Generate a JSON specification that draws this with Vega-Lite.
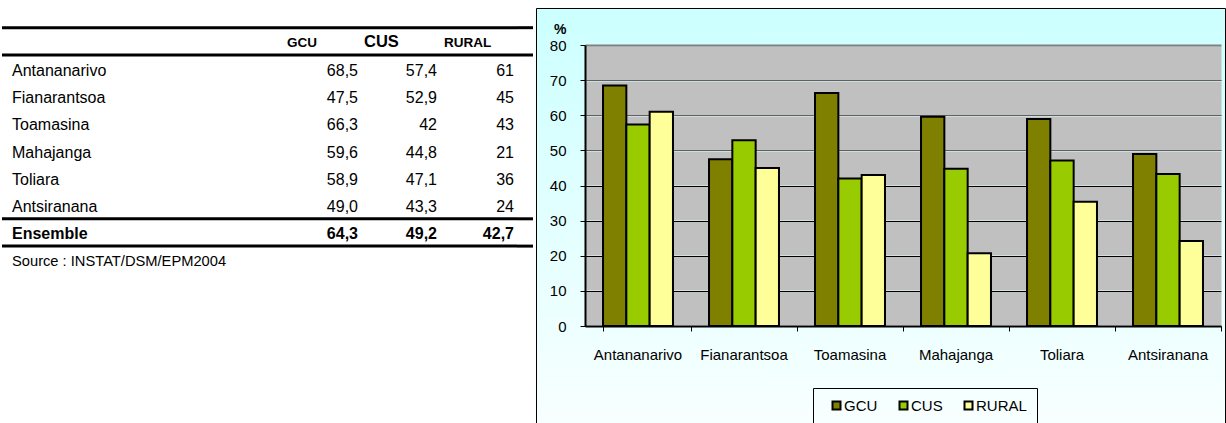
{
  "$schema": "https://vega.github.io/schema/vega-lite/v6.json",
  "background": "white",
  "padding": {"top": 7, "left": 0, "right": 0, "bottom": 0},
  "spacing": 0,
  "resolve": {"legend": {"color": "independent"}, "scale": {"color": "independent"}},
  "config": {
    "font": "Liberation Sans",
    "view": {"stroke": null},
    "text": {"color": "black"}
  },
  "datasets": {
    "bars": [
      {"region": "Antananarivo", "series": "GCU", "value": 68.5},
      {"region": "Antananarivo", "series": "CUS", "value": 57.4},
      {"region": "Antananarivo", "series": "RURAL", "value": 61},
      {"region": "Fianarantsoa", "series": "GCU", "value": 47.5},
      {"region": "Fianarantsoa", "series": "CUS", "value": 52.9},
      {"region": "Fianarantsoa", "series": "RURAL", "value": 45},
      {"region": "Toamasina", "series": "GCU", "value": 66.3},
      {"region": "Toamasina", "series": "CUS", "value": 42},
      {"region": "Toamasina", "series": "RURAL", "value": 43},
      {"region": "Mahajanga", "series": "GCU", "value": 59.6},
      {"region": "Mahajanga", "series": "CUS", "value": 44.8},
      {"region": "Mahajanga", "series": "RURAL", "value": 20.7},
      {"region": "Toliara", "series": "GCU", "value": 58.9},
      {"region": "Toliara", "series": "CUS", "value": 47.1},
      {"region": "Toliara", "series": "RURAL", "value": 35.4},
      {"region": "Antsiranana", "series": "GCU", "value": 49.0},
      {"region": "Antsiranana", "series": "CUS", "value": 43.3},
      {"region": "Antsiranana", "series": "RURAL", "value": 24.2}
    ],
    "table": [
      {"row": "header", "kind": "header", "name": "", "GCU": "GCU", "CUS": "CUS", "RURAL": "RURAL"},
      {"row": "Antananarivo", "kind": "body", "name": "Antananarivo", "GCU": "68,5", "CUS": "57,4", "RURAL": "61"},
      {"row": "Fianarantsoa", "kind": "body", "name": "Fianarantsoa", "GCU": "47,5", "CUS": "52,9", "RURAL": "45"},
      {"row": "Toamasina", "kind": "body", "name": "Toamasina", "GCU": "66,3", "CUS": "42", "RURAL": "43"},
      {"row": "Mahajanga", "kind": "body", "name": "Mahajanga", "GCU": "59,6", "CUS": "44,8", "RURAL": "21"},
      {"row": "Toliara", "kind": "body", "name": "Toliara", "GCU": "58,9", "CUS": "47,1", "RURAL": "36"},
      {"row": "Antsiranana", "kind": "body", "name": "Antsiranana", "GCU": "49,0", "CUS": "43,3", "RURAL": "24"},
      {"row": "Ensemble", "kind": "total", "name": "Ensemble", "GCU": "64,3", "CUS": "49,2", "RURAL": "42,7"},
      {"row": "Source", "kind": "source", "name": "Source : INSTAT/DSM/EPM2004", "GCU": "", "CUS": "", "RURAL": ""}
    ],
    "lines": [
      {"row": "header"},
      {"row": "Antananarivo"},
      {"row": "Ensemble"},
      {"row": "Source"}
    ]
  },
  "hconcat": [
    {
      "spacing": 0,
      "bounds": "flush",
      "hconcat": [
        {
          "width": 280, "height": 416,
          "layer": [
            {
              "data": {"name": "lines"},
              "mark": {"type": "rule", "strokeWidth": 3, "color": "black"},
              "encoding": {"y": {"field": "row", "type": "nominal", "bandPosition": 0, "axis": null,
                "scale": {"type": "band", "domain": ["header", "Antananarivo", "Fianarantsoa", "Toamasina", "Mahajanga", "Toliara", "Antsiranana", "Ensemble", "Source"], "paddingInner": 0, "paddingOuter": 0, "range": [19.7, 265.4]}}}
            },
            {
              "data": {"name": "table"},
              "transform": [{"filter": "datum.kind === 'body'"}],
              "mark": {"type": "text", "align": "left", "baseline": "middle", "fontSize": 16, "dx": 10, "dy": 2},
              "encoding": {"x": {"value": 0}, "y": {"field": "row", "type": "nominal", "bandPosition": 0.5, "axis": null}, "text": {"field": "name"}}
            },
            {
              "data": {"name": "table"},
              "transform": [{"filter": "datum.kind === 'total'"}],
              "mark": {"type": "text", "align": "left", "baseline": "middle", "fontSize": 16, "fontWeight": "bold", "dx": 10, "dy": 2},
              "encoding": {"x": {"value": 0}, "y": {"field": "row", "type": "nominal", "bandPosition": 0.5, "axis": null}, "text": {"field": "name"}}
            },
            {
              "data": {"name": "table"},
              "transform": [{"filter": "datum.kind === 'source'"}],
              "mark": {"type": "text", "align": "left", "baseline": "middle", "fontSize": 14.7, "dx": 10, "dy": 2},
              "encoding": {"x": {"value": 0}, "y": {"field": "row", "type": "nominal", "bandPosition": 0.5, "axis": null}, "text": {"field": "name"}}
            }
          ]
        },
        {
          "width": 78, "height": 416,
          "layer": [
            {
              "data": {"name": "lines"},
              "mark": {"type": "rule", "strokeWidth": 3, "color": "black"},
              "encoding": {"y": {"field": "row", "type": "nominal", "bandPosition": 0, "axis": null,
                "scale": {"type": "band", "domain": ["header", "Antananarivo", "Fianarantsoa", "Toamasina", "Mahajanga", "Toliara", "Antsiranana", "Ensemble", "Source"], "paddingInner": 0, "paddingOuter": 0, "range": [19.7, 265.4]}}}
            },
            {
              "data": {"name": "table"},
              "transform": [{"filter": "datum.kind === 'header'"}],
              "mark": {"type": "text", "align": "left", "baseline": "middle", "fontSize": 13.5, "fontWeight": "bold", "dx": 5, "dy": 2},
              "encoding": {"x": {"value": 0}, "y": {"field": "row", "type": "nominal", "bandPosition": 0.5, "axis": null}, "text": {"field": "GCU"}}
            },
            {
              "data": {"name": "table"},
              "transform": [{"filter": "datum.kind === 'body'"}],
              "mark": {"type": "text", "align": "right", "baseline": "middle", "fontSize": 16, "dx": -2, "dy": 2},
              "encoding": {"x": {"value": "width"}, "y": {"field": "row", "type": "nominal", "bandPosition": 0.5, "axis": null}, "text": {"field": "GCU"}}
            },
            {
              "data": {"name": "table"},
              "transform": [{"filter": "datum.kind === 'total'"}],
              "mark": {"type": "text", "align": "right", "baseline": "middle", "fontSize": 16, "fontWeight": "bold", "dx": -2, "dy": 2},
              "encoding": {"x": {"value": "width"}, "y": {"field": "row", "type": "nominal", "bandPosition": 0.5, "axis": null}, "text": {"field": "GCU"}}
            }
          ]
        },
        {
          "width": 79, "height": 416,
          "layer": [
            {
              "data": {"name": "lines"},
              "mark": {"type": "rule", "strokeWidth": 3, "color": "black"},
              "encoding": {"y": {"field": "row", "type": "nominal", "bandPosition": 0, "axis": null,
                "scale": {"type": "band", "domain": ["header", "Antananarivo", "Fianarantsoa", "Toamasina", "Mahajanga", "Toliara", "Antsiranana", "Ensemble", "Source"], "paddingInner": 0, "paddingOuter": 0, "range": [19.7, 265.4]}}}
            },
            {
              "data": {"name": "table"},
              "transform": [{"filter": "datum.kind === 'header'"}],
              "mark": {"type": "text", "align": "left", "baseline": "middle", "fontSize": 16.5, "fontWeight": "bold", "dx": 4, "dy": 1},
              "encoding": {"x": {"value": 0}, "y": {"field": "row", "type": "nominal", "bandPosition": 0.5, "axis": null}, "text": {"field": "CUS"}}
            },
            {
              "data": {"name": "table"},
              "transform": [{"filter": "datum.kind === 'body'"}],
              "mark": {"type": "text", "align": "right", "baseline": "middle", "fontSize": 16, "dx": -2, "dy": 2},
              "encoding": {"x": {"value": "width"}, "y": {"field": "row", "type": "nominal", "bandPosition": 0.5, "axis": null}, "text": {"field": "CUS"}}
            },
            {
              "data": {"name": "table"},
              "transform": [{"filter": "datum.kind === 'total'"}],
              "mark": {"type": "text", "align": "right", "baseline": "middle", "fontSize": 16, "fontWeight": "bold", "dx": -2, "dy": 2},
              "encoding": {"x": {"value": "width"}, "y": {"field": "row", "type": "nominal", "bandPosition": 0.5, "axis": null}, "text": {"field": "CUS"}}
            }
          ]
        },
        {
          "width": 78, "height": 416,
          "layer": [
            {
              "data": {"name": "lines"},
              "mark": {"type": "rule", "strokeWidth": 3, "color": "black"},
              "encoding": {"y": {"field": "row", "type": "nominal", "bandPosition": 0, "axis": null,
                "scale": {"type": "band", "domain": ["header", "Antananarivo", "Fianarantsoa", "Toamasina", "Mahajanga", "Toliara", "Antsiranana", "Ensemble", "Source"], "paddingInner": 0, "paddingOuter": 0, "range": [19.7, 265.4]}}}
            },
            {
              "data": {"name": "table"},
              "transform": [{"filter": "datum.kind === 'header'"}],
              "mark": {"type": "text", "align": "left", "baseline": "middle", "fontSize": 13.5, "fontWeight": "bold", "dx": 5, "dy": 2},
              "encoding": {"x": {"value": 0}, "y": {"field": "row", "type": "nominal", "bandPosition": 0.5, "axis": null}, "text": {"field": "RURAL"}}
            },
            {
              "data": {"name": "table"},
              "transform": [{"filter": "datum.kind === 'body'"}],
              "mark": {"type": "text", "align": "right", "baseline": "middle", "fontSize": 16, "dx": -3, "dy": 2},
              "encoding": {"x": {"value": "width"}, "y": {"field": "row", "type": "nominal", "bandPosition": 0.5, "axis": null}, "text": {"field": "RURAL"}}
            },
            {
              "data": {"name": "table"},
              "transform": [{"filter": "datum.kind === 'total'"}],
              "mark": {"type": "text", "align": "right", "baseline": "middle", "fontSize": 16, "fontWeight": "bold", "dx": -3, "dy": 2},
              "encoding": {"x": {"value": "width"}, "y": {"field": "row", "type": "nominal", "bandPosition": 0.5, "axis": null}, "text": {"field": "RURAL"}}
            }
          ]
        },
        {
          "width": 16, "height": 416,
          "data": {"name": "lines"},
          "mark": {"type": "rule", "strokeWidth": 3, "color": "black"},
          "encoding": {"y": {"field": "row", "type": "nominal", "bandPosition": 0, "axis": null,
            "scale": {"type": "band", "domain": ["header", "Antananarivo", "Fianarantsoa", "Toamasina", "Mahajanga", "Toliara", "Antsiranana", "Ensemble", "Source"], "paddingInner": 0, "paddingOuter": 0, "range": [19.7, 265.4]}}}
        }
      ]
    },
    {
      "width": 689,
      "height": 416,
      "data": {"name": "bars"},
      "view": {
        "fill": {"gradient": "linear", "x1": 0, "y1": 0, "x2": 0, "y2": 1,
                 "stops": [{"offset": 0, "color": "#CCFFFF"}, {"offset": 1, "color": "#F8FFFF"}]},
        "stroke": "black", "strokeWidth": 1
      },
      "mark": {"type": "bar", "stroke": "black", "strokeWidth": 2},
      "encoding": {
        "x": {
          "field": "region", "type": "nominal",
          "sort": ["Antananarivo", "Fianarantsoa", "Toamasina", "Mahajanga", "Toliara", "Antsiranana"],
          "scale": {"range": [49, 685], "paddingInner": 0.34, "paddingOuter": 0.17},
          "axis": {"title": null, "orient": "bottom", "offset": -98, "labelAngle": 0, "labelFontSize": 15, "labelColor": "black",
                   "domainColor": "black", "domainWidth": 2, "tickColor": "black", "tickSize": 5, "tickWidth": 1,
                   "bandPosition": 1.2576, "tickExtra": true, "labelPadding": 16, "grid": false}
        },
        "xOffset": {
          "field": "series", "type": "nominal", "sort": ["GCU", "CUS", "RURAL"],
          "scale": {"paddingInner": 0, "paddingOuter": 0}
        },
        "y": {
          "field": "value", "type": "quantitative",
          "scale": {"domain": [0, 80], "nice": false, "range": [318, 37]},
          "axis": {
            "offset": -49,
            "values": [0, 5, 10, 15, 20, 25, 30, 35, 40, 45, 50, 55, 60, 65, 70, 75, 80],
            "labelExpr": "datum.value % 10 === 5 ? '' : datum.label",
            "title": "%", "titleAngle": 0, "titleAlign": "right", "titleBaseline": "alphabetic",
            "titleX": -19, "titleY": 25, "titleFontSize": 14, "titleFontWeight": "bold", "titleColor": "black",
            "labelFontSize": 15, "labelColor": "black", "labelPadding": 14,
            "domainColor": "black", "domainWidth": 2, "tickColor": "black", "tickSize": 5, "tickWidth": 1,
            "tickOpacity": {"condition": {"test": "datum.value % 10 === 5", "value": 0}, "value": 1},
            "grid": true,
            "gridColor": {"condition": [
              {"test": "datum.value % 10 === 5", "value": "#C0C0C0"},
              {"test": "datum.value === 80", "value": "#808080"}
            ], "value": "black"},
            "gridWidth": {"condition": [
              {"test": "datum.value % 10 === 5", "value": 34.1},
              {"test": "datum.value === 80", "value": 2}
            ], "value": 1}
          }
        },
        "color": {
          "field": "series", "type": "nominal", "sort": ["GCU", "CUS", "RURAL"],
          "scale": {"domain": ["GCU", "CUS", "RURAL"], "range": ["#808000", "#99CC00", "#FFFF99"]},
          "legend": {
            "title": null, "orient": "none", "legendX": 277, "legendY": 380, "direction": "horizontal",
            "strokeColor": "black", "padding": 10, "gridAlign": "none",
            "symbolType": "square", "symbolSize": 64, "symbolStrokeColor": "black", "symbolStrokeWidth": 2, "symbolOpacity": 1,
            "symbolOffset": 6, "labelFontSize": 15, "labelColor": "black", "labelOffset": 0, "columnPadding": 12
          }
        }
      }
    }
  ]
}
